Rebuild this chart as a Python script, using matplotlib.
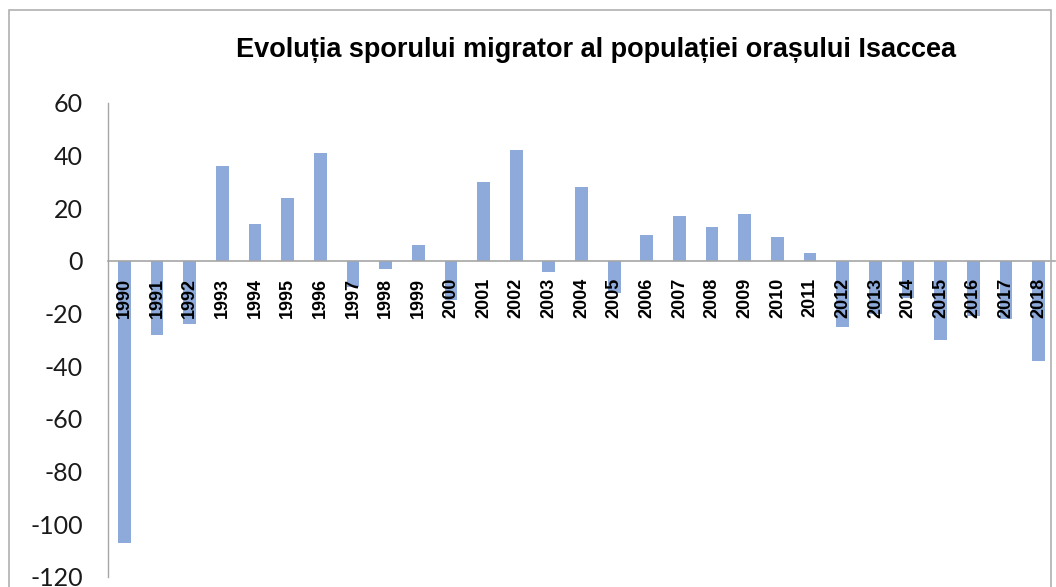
import matplotlib.pyplot as plt
from matplotlib.patches import Rectangle

# Values (migration balance, Isaccea)
years = [str(y) for y in range(1990, 2019)]
values = [-107, -28, -24, 36, 14, 24, 41, -10, -3, 6,
          -15, 30, 42, -4, 28, -12, 10, 17, 13, 18,
          9, 3, -25, -20, -14, -30, -21, -22, -38]
yticks = [-120, -100, -80, -60, -40, -20, 0, 20, 40, 60]

plt.rcParams['font.family'] = ['Liberation Sans', 'DejaVu Sans']

fig = plt.figure(figsize=(10.56, 5.87), dpi=100)
ax = fig.add_axes([108 / 1056, 1 - 577 / 587, 947 / 1056, (577 - 103) / 587])

x = range(len(years))
ax.bar(x, values, width=0.39, color='#8eaadb', zorder=1)

ax.set_xlim(-0.5, len(years) - 0.5)
ax.set_ylim(-120, 60)
ax.set_yticks(yticks)
ax.set_yticklabels([str(v) for v in yticks], fontsize=18, fontfamily='Lato',
                   color='#1a1a1a')
ax.tick_params(axis='y', length=0, pad=18)

ax.spines['bottom'].set_position(('data', 0))
ax.spines['bottom'].set_color('#a6a6a6')
ax.spines['bottom'].set_linewidth(1.2)
ax.spines['left'].set_color('#a6a6a6')
ax.spines['left'].set_linewidth(1.0)
ax.spines['top'].set_visible(False)
ax.spines['right'].set_visible(False)

ax.set_xticks(list(x))
ax.set_xticklabels(years, rotation=90, fontsize=13, fontweight='bold', va='top')
ax.tick_params(axis='x', length=0, pad=12)

fig.text(0.564, 1 - 50 / 587, 'Evoluția sporului migrator al populației orașului Isaccea',
         ha='center', va='center', fontsize=19.5, fontweight='bold')

# light outer frame like the pasted chart area
fig.patches.append(Rectangle((9 / 1056, -0.1), 1042 / 1056, 1.1 - 10 / 587,
                             transform=fig.transFigure, fill=False,
                             edgecolor='#b0b0b0', linewidth=1.2))

fig.savefig('out.png', dpi=100)
